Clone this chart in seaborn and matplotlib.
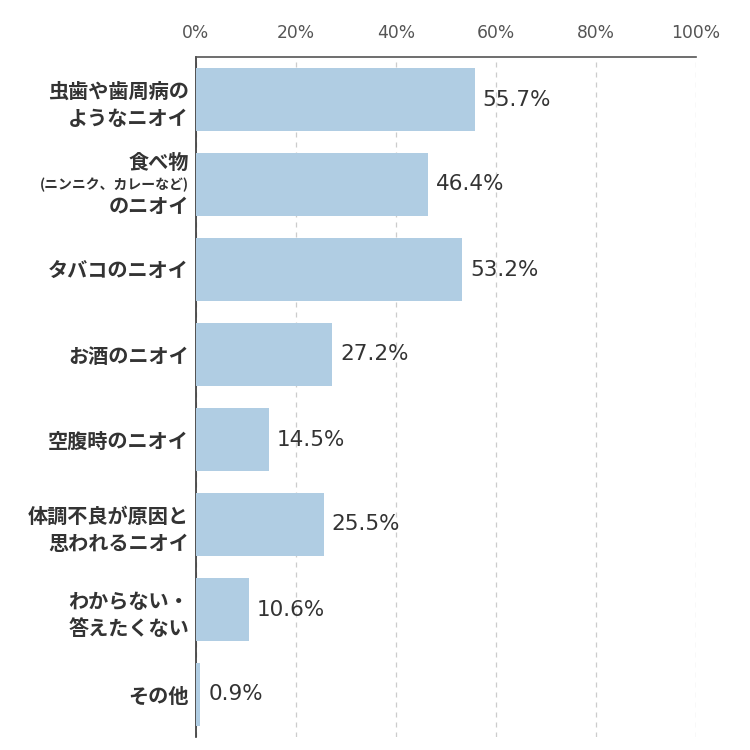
import matplotlib
matplotlib.use("Agg")
import matplotlib.pyplot as plt
import seaborn as sns
import pandas as pd
from matplotlib.transforms import blended_transform_factory, offset_copy

categories = ["虫歯や歯周病の\nようなニオイ", "食べ物\n(ニンニク、カレーなど)\nのニオイ", "タバコのニオイ",
              "お酒のニオイ", "空腹時のニオイ", "体調不良が原因と\n思われるニオイ",
              "わからない・\n答えたくない", "その他"]
values = [55.7, 46.4, 53.2, 27.2, 14.5, 25.5, 10.6, 0.9]
xticks = [0, 20, 40, 60, 80, 100]
xtick_labels = ["0%", "20%", "40%", "60%", "80%", "100%"]

sns.set_theme(style="white")
plt.rcParams['font.family'] = ['Noto Sans CJK JP', 'DejaVu Sans']

df = pd.DataFrame({"cat": categories, "val": values})
fig = plt.figure(figsize=(7.5, 7.5), dpi=100)
ax = fig.add_axes([196/750, 1-737/750, 500/750, 680/750])
sns.barplot(data=df, y="cat", x="val", color="#B0CDE3", saturation=1, width=0.73,
            linewidth=0, ax=ax, zorder=3)
ax.set_xlim(0, 100)
ax.set_ylim(len(categories)-0.5, -0.5)
ax.set_xlabel("")
ax.set_ylabel("")
ax.xaxis.tick_top()
ax.set_xticks(xticks)
ax.set_xticklabels(xtick_labels, fontsize=12.3, color="#555555", family="DejaVu Sans")
ax.tick_params(axis="x", length=0, pad=11)
ax.tick_params(axis="y", length=0, pad=5)
ax.grid(axis="x", color="#cccccc", linestyle=(0, (4, 4)), linewidth=0.9, zorder=0)
for s in ["right", "bottom"]:
    ax.spines[s].set_visible(False)
ax.spines["top"].set_color("#555555")
ax.spines["left"].set_color("#333333")
ax.spines["top"].set_linewidth(1.2)
ax.spines["left"].set_linewidth(1.2)

labels = ["" if i == 1 else c for i, c in enumerate(categories)]
ax.set_yticks(range(len(categories)))
ax.set_yticklabels(labels, fontsize=14.5, fontweight="bold", color="#333333", linespacing=1.4)

# custom label for the second category with smaller middle line
tr = offset_copy(blended_transform_factory(ax.transAxes, ax.transData), fig=fig, x=-5, y=0, units="points")
ax.text(0, 1, "食べ物", transform=offset_copy(tr, fig=fig, x=0, y=15.5, units="points"),
        ha="right", va="center", fontsize=14.5, fontweight="bold", color="#333333")
ax.text(0, 1, "(ニンニク、カレーなど)", transform=tr,
        ha="right", va="center", fontsize=10, fontweight="bold", color="#333333")
ax.text(0, 1, "のニオイ", transform=offset_copy(tr, fig=fig, x=0, y=-15.5, units="points"),
        ha="right", va="center", fontsize=14.5, fontweight="bold", color="#333333")

for i, v in enumerate(values):
    ax.text(v + 1.6, i, f"{v:.1f}%", va="center", ha="left", fontsize=15.5,
            color="#333333", family="DejaVu Sans")

fig.savefig("out.png", dpi=100)
